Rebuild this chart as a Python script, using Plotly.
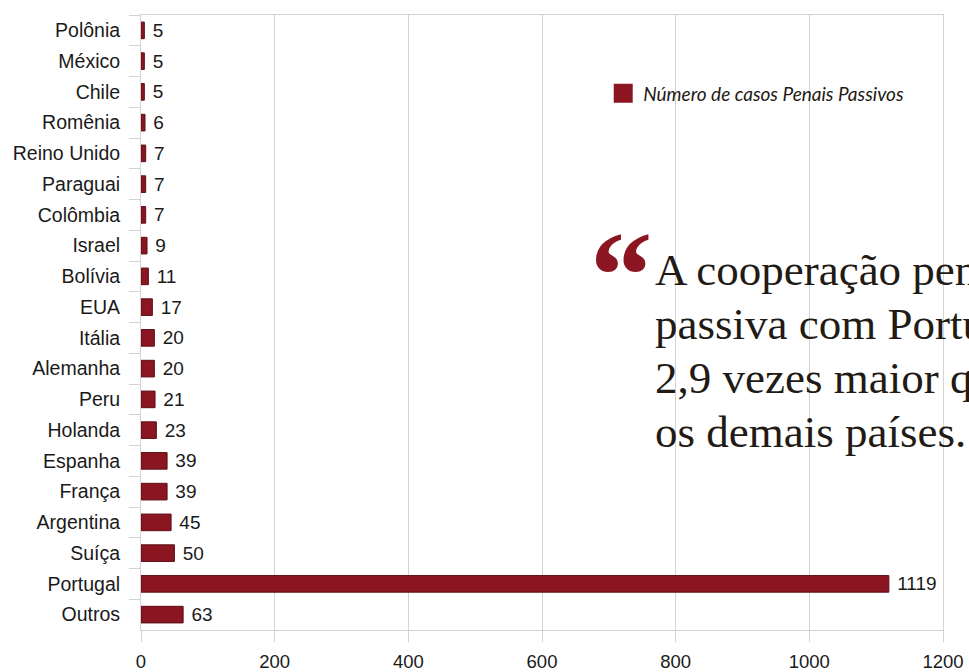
import plotly.graph_objects as go

# Countries, listed from top to bottom of the chart
paises = ["Polônia", "México", "Chile", "Romênia", "Reino Unido", "Paraguai",
          "Colômbia", "Israel", "Bolívia", "EUA", "Itália", "Alemanha", "Peru",
          "Holanda", "Espanha", "França", "Argentina", "Suíça", "Portugal", "Outros"]
casos = [5, 5, 5, 6, 7, 7, 7, 9, 11, 17, 20, 20, 21, 23, 39, 39, 45, 50, 1119, 63]

serie = "Número de casos Penais Passivos"
citacao = ["A cooperação penal", "passiva com Portugal é",
           "2,9 vezes maior que", "os demais países."]

VERMELHO = "#8b1520"
GRADE = "#d3d3d3"
TEXTO = "#1a1a1a"

W, H = 969, 672
ML, MR, MT, MB = 141, 25.5, 15, 42
plot_w = W - ML - MR
plot_h = H - MT - MB


def px_x(x):
    return (x - ML) / plot_w


def px_y(y):
    return (H - MB - y) / plot_h


fig = go.Figure()

fig.add_trace(go.Bar(
    x=casos, y=paises, orientation="h",
    marker=dict(color=VERMELHO, line=dict(color="#5c0e15", width=1)),
    text=casos, texttemplate=" %{x}", textposition="outside",
    constraintext="none", cliponaxis=False,
    textfont=dict(family="Liberation Sans, Arial, sans-serif", size=19, color=TEXTO),
    showlegend=False, hoverinfo="x+y",
))

# legend entry with a larger square swatch
fig.add_trace(go.Scatter(
    x=[None], y=[None], mode="markers", name=serie,
    marker=dict(symbol="square", size=16, color=VERMELHO,
                line=dict(color=VERMELHO, width=3)),
    showlegend=True,
))

# quotation block
fig.add_annotation(
    xref="paper", yref="paper", x=px_x(588), y=px_y(275),
    xanchor="left", yanchor="middle", showarrow=False,
    text="“", font=dict(family="Liberation Serif, Times New Roman, serif",
                        size=125, color=VERMELHO, weight="bold"),
)
baselines = [287, 341, 395, 449]
for linha, base in zip(citacao, baselines):
    fig.add_annotation(
        xref="paper", yref="paper", x=px_x(653), y=px_y(base - 17),
        xanchor="left", yanchor="middle", showarrow=False,
        text=linha, font=dict(family="Liberation Serif, Times New Roman, serif",
                              size=45, color="#221a14"),
    )

fig.update_layout(
    width=W, height=H,
    margin=dict(l=ML, r=MR, t=MT, b=MB, pad=0, autoexpand=False),
    paper_bgcolor="white", plot_bgcolor="white",
    bargap=0.46,
    font=dict(family="Liberation Sans, Arial, sans-serif", size=18, color=TEXTO),
    legend=dict(
        x=px_x(603.5), y=px_y(93.5), xanchor="left", yanchor="middle",
        bgcolor="rgba(0,0,0,0)",
        font=dict(family="Lato, sans-serif",
                  size=19, color="#221a14", style="italic"),
    ),
    xaxis=dict(
        range=[0, 1200], dtick=200, tick0=0, automargin=False,
        showgrid=True, gridcolor=GRADE, gridwidth=1,
        zeroline=False,
        showline=True, linecolor=GRADE, linewidth=1, mirror=True,
        ticks="outside", ticklen=11, tickcolor=GRADE,
        ticklabelstandoff=4,
        tickfont=dict(size=18.5, color=TEXTO),
    ),
    yaxis=dict(
        autorange="reversed", type="category", automargin=False,
        showgrid=False, zeroline=False,
        showline=True, linecolor=GRADE, linewidth=1, mirror=True,
        ticks="outside", tickson="boundaries", ticklen=11, tickcolor=GRADE,
        ticklabelstandoff=16,
        tickfont=dict(size=19.5, color=TEXTO),
    ),
)

fig.write_html("out.html")
